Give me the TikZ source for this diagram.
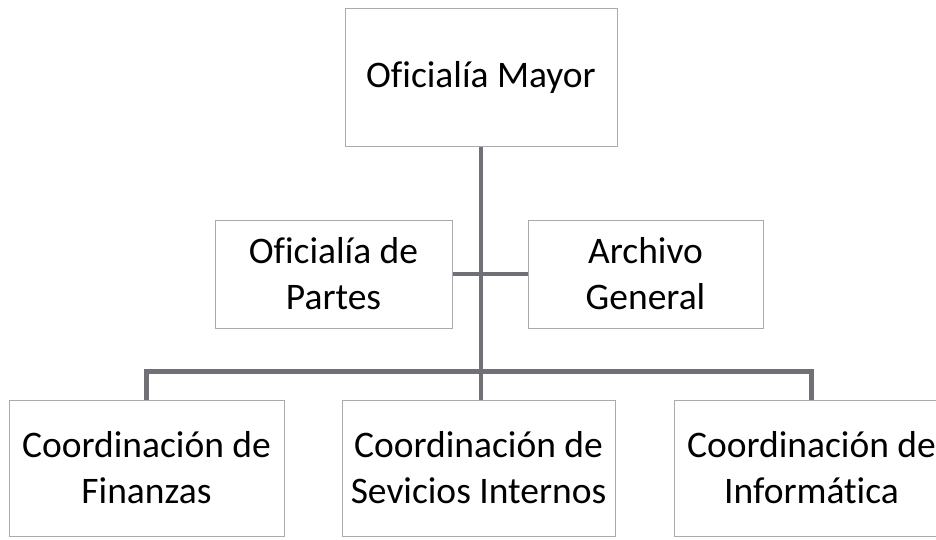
\documentclass[tikz,border=0pt]{standalone}
\usepackage{fontspec}
\setmainfont[Ligatures=NoCommon]{Carlito}
\usepackage{xcolor}
\usepackage{tikz}
\usetikzlibrary{positioning}

\definecolor{linegray}{RGB}{112,112,118}
\definecolor{boxgray}{RGB}{170,170,170}

\begin{document}
\begin{tikzpicture}[font=\fontsize{37.5}{46}\selectfont]
    \tikzstyle{unit} = [rectangle, draw=boxgray, line width=1pt, fill=white, align=center, inner sep=0pt]
    \tikzstyle{link} = [draw=linegray, line width=4.5pt, line join=miter]

    \useasboundingbox (0,0) rectangle (936pt,539pt);

    \node (mayor) [unit, minimum width=272pt, minimum height=138pt] at (481pt,461pt) {Oficialía Mayor};
    \node (partes) [unit, minimum width=237pt, minimum height=108pt, below=72pt of mayor, xshift=-147.5pt] {Oficialía de\\Partes};
    \node (archivo) [unit, minimum width=235pt, minimum height=108pt, below=72pt of mayor, xshift=164.5pt] {Archivo\\General};
    \node (servicios) [unit, minimum width=273pt, minimum height=136pt, below=252pt of mayor, xshift=-2.5pt] {Coordinación de\\Sevicios Internos};
    \node (finanzas) [unit, minimum width=275pt, minimum height=136pt, left=57pt of servicios] {Coordinación de\\Finanzas};
    \node (informatica) [unit, minimum width=275pt, minimum height=136pt, right=58pt of servicios] {Coordinación de\\Informática};

    \draw [link] (mayor.south) -- (mayor.south |- servicios.north);
    \draw [link] (partes.east) -- (archivo.west);
    \draw [link] (finanzas.north) -- ++(0,28pt) -| (informatica.north);
\end{tikzpicture}
\end{document}
